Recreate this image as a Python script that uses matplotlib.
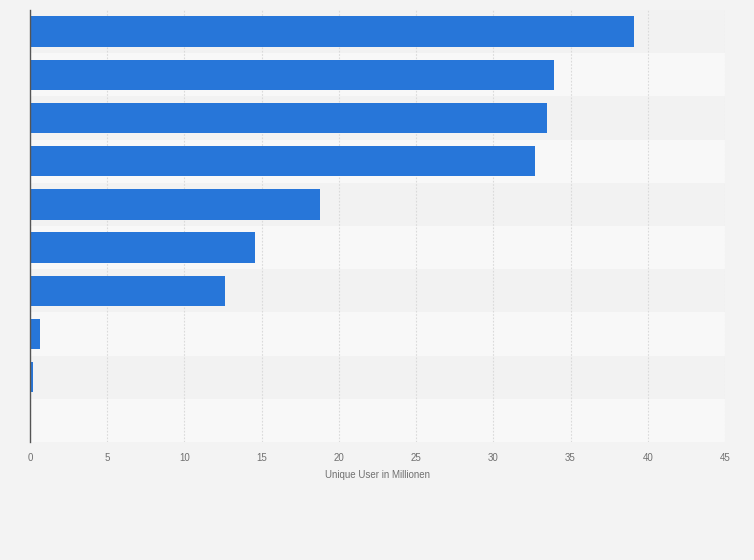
import matplotlib
matplotlib.use("Agg")
import matplotlib.pyplot as plt
import numpy as np

plt.rcParams["font.family"] = ["Liberation Sans", "DejaVu Sans"]

# values (Unique User in Millionen), top row first
values = [39.1, 33.9, 33.5, 32.7, 18.8, 14.6, 12.6, 0.65, 0.2, 0]
xticks = [0, 5, 10, 15, 20, 25, 30, 35, 40, 45]
xlabel = "Unique User in Millionen"

bg = "#f3f3f3"
fig = plt.figure(figsize=(7.54, 5.60), dpi=100, facecolor=bg)
ax = fig.add_axes([30/754, 1 - 442/560, 695/754, 432/560])
ax.set_facecolor(bg)

n = len(values)
y = np.arange(n)

# alternating row bands
for i in range(n):
    col = "#f2f2f2" if i % 2 == 0 else "#f8f8f8"
    ax.axhspan(i - 0.5, i + 0.5, color=col, zorder=0, lw=0)

ax.barh(y, values, height=0.7, color="#2776d9", zorder=3)

ax.set_xlim(0, 45)
ax.set_ylim(n - 0.5, -0.5)
ax.set_xticks(xticks)
ax.set_xticklabels([str(t) for t in xticks])
ax.set_yticks([])

ax.grid(axis="x", color="#dadada", linestyle=(0, (1.5, 1.5)), linewidth=0.8, zorder=1)
for s in ["top", "right", "bottom"]:
    ax.spines[s].set_visible(False)
ax.spines["left"].set_color("#555555")
ax.spines["left"].set_linewidth(1.0)
ax.spines["left"].set_zorder(4)

ax.tick_params(axis="x", length=0, pad=8, labelsize=7, labelcolor="#707070")
ax.set_xlabel(xlabel, fontsize=7, color="#707070", labelpad=5)

fig.savefig("out.png", dpi=100, facecolor=bg)
